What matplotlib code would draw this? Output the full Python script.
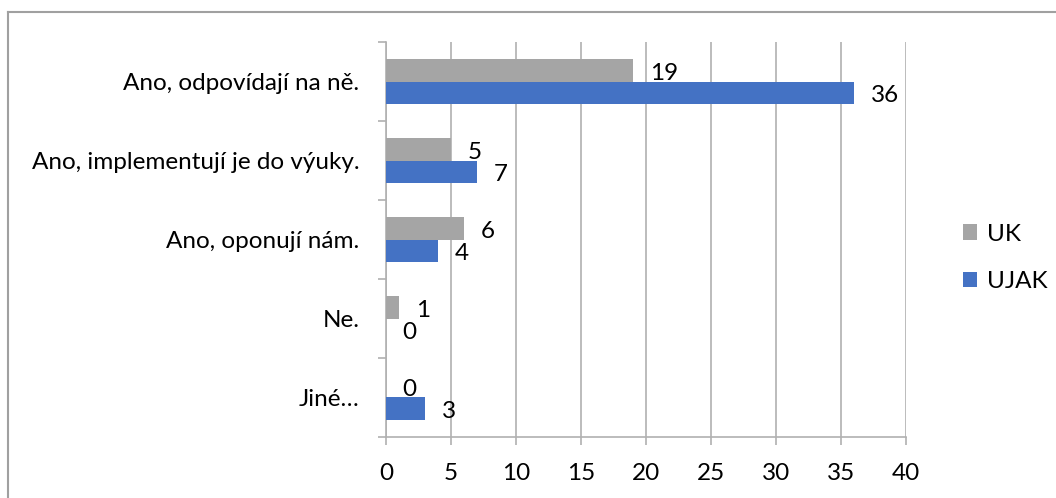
import matplotlib.pyplot as plt
import numpy as np

categories = ['Ano, odpovídají na ně.', 'Ano, implementují je do výuky.',
              'Ano, oponují nám.', 'Ne.', 'Jiné…']
uk_values = [19, 5, 6, 1, 0]
ujak_values = [36, 7, 4, 0, 3]
x_ticks = [0, 5, 10, 15, 20, 25, 30, 35, 40]

GRAY = '#A5A5A5'
BLUE = '#4472C4'
GRID = '#B0B0B0'
FS = 17.5

plt.rcParams['font.family'] = ['Lato', 'DejaVu Sans']

fig = plt.figure(figsize=(10.56, 4.98), dpi=100)
ax = fig.add_axes([386 / 1056, 1 - 437 / 498, 520 / 1056, 395 / 498])

# outer chart frame (left and top edges visible)
fig.add_artist(plt.Line2D([8 / 1056, 8 / 1056], [0, 1 - 12 / 498], color='#A0A0A0', lw=1.5))
fig.add_artist(plt.Line2D([8 / 1056, 1], [1 - 12 / 498, 1 - 12 / 498], color='#A0A0A0', lw=1.5))

pos = np.arange(len(categories))
h = 0.28
uk_bars = ax.barh(pos - h / 2, uk_values, height=h, color=GRAY, label='UK', zorder=3)
ujak_bars = ax.barh(pos + h / 2, ujak_values, height=h, color=BLUE, label='UJAK', zorder=3)

for bars, vals in [(uk_bars, uk_values), (ujak_bars, ujak_values)]:
    for b, v in zip(bars, vals):
        ax.annotate(str(v), (b.get_width(), b.get_y() + b.get_height() / 2),
                    xytext=(12, -2), textcoords='offset points',
                    ha='left', va='center', fontsize=FS, color='black', zorder=4)

ax.set_ylim(len(categories) - 0.5, -0.5)
ax.set_xlim(0, 40)
ax.set_xticks(x_ticks)
ax.set_yticks(pos)
ax.set_yticklabels(categories)
ax.set_yticks(np.arange(-0.5, len(categories)), minor=True)

ax.grid(axis='x', color=GRID, lw=1.2, zorder=0)
for s in ['top', 'right']:
    ax.spines[s].set_visible(False)
for s in ['left', 'bottom']:
    ax.spines[s].set_color(GRID)
    ax.spines[s].set_linewidth(1.2)

ax.tick_params(axis='y', which='major', length=0, pad=19, labelsize=FS)
ax.tick_params(axis='y', which='minor', length=6, width=1.2, color=GRID)
ax.tick_params(axis='x', length=6, width=1.2, color=GRID, pad=13, labelsize=FS)

leg = fig.legend(handles=[uk_bars, ujak_bars], loc='center left',
                 bbox_to_anchor=(963 / 1056, 1 - 258 / 498), frameon=False,
                 fontsize=FS, handlelength=0.58, handleheight=0.58,
                 labelspacing=1.1, handletextpad=0.4, borderpad=0, borderaxespad=0)

fig.savefig('out.png', dpi=100)
